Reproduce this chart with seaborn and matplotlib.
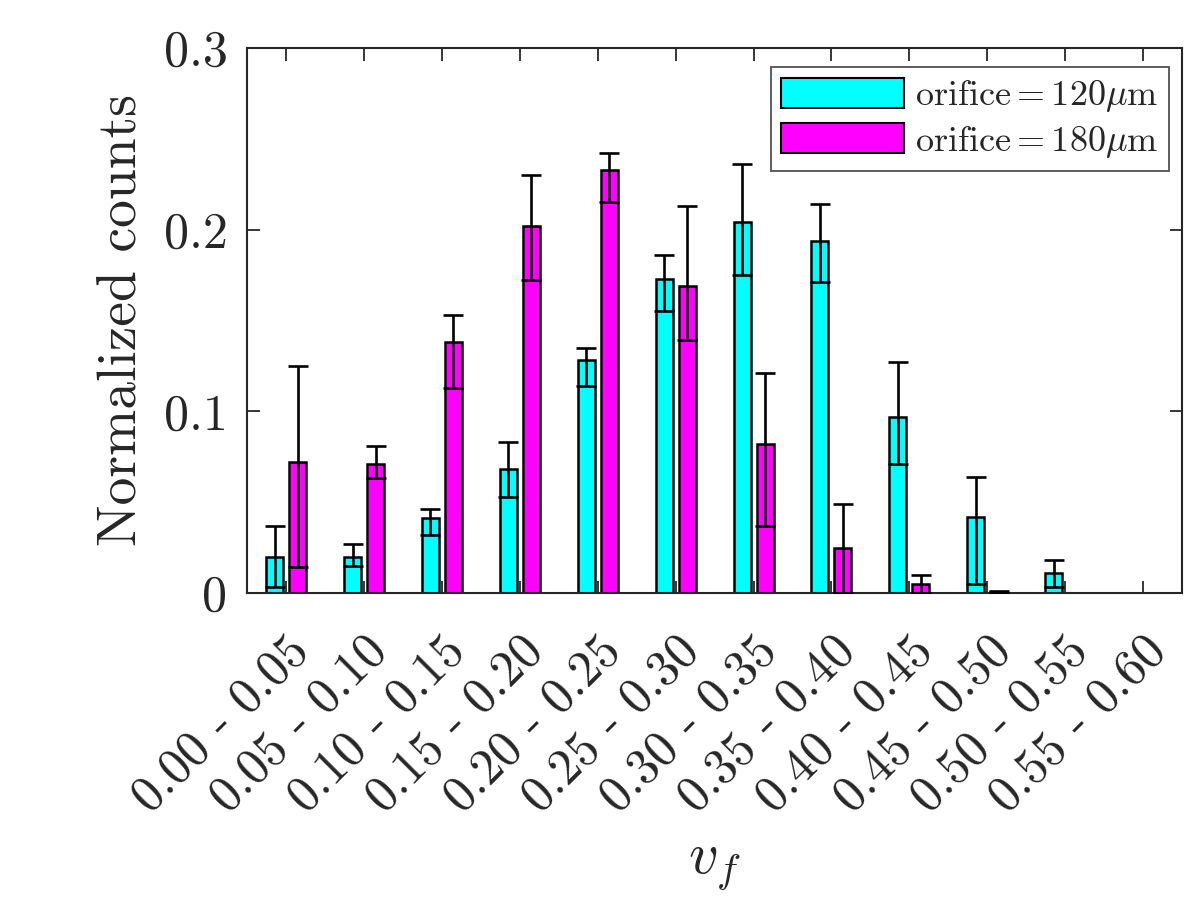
import numpy as np
import pandas as pd
import seaborn as sns
import matplotlib.pyplot as plt

# bins of v_f
bins = ['0.00 - 0.05', '0.05 - 0.10', '0.10 - 0.15', '0.15 - 0.20',
        '0.20 - 0.25', '0.25 - 0.30', '0.30 - 0.35', '0.35 - 0.40',
        '0.40 - 0.45', '0.45 - 0.50', '0.50 - 0.55', '0.55 - 0.60']
series = ['orifice120', 'orifice180']

# orifice = 120 um
val120 = [0.020, 0.020, 0.041, 0.068, 0.128, 0.173, 0.204, 0.194, 0.097, 0.042, 0.011, 0.0]
lo120 = [0.003, 0.015, 0.032, 0.053, 0.114, 0.155, 0.175, 0.171, 0.071, 0.005, 0.003, 0.0]
hi120 = [0.037, 0.027, 0.046, 0.083, 0.135, 0.186, 0.236, 0.214, 0.127, 0.064, 0.018, 0.0]

# orifice = 180 um
val180 = [0.072, 0.071, 0.138, 0.202, 0.233, 0.169, 0.082, 0.025, 0.005, 0.0004, 0.0, 0.0]
lo180 = [0.014, 0.063, 0.113, 0.172, 0.215, 0.139, 0.037, 0.0, 0.0, 0.0, 0.0, 0.0]
hi180 = [0.125, 0.081, 0.153, 0.230, 0.242, 0.213, 0.121, 0.049, 0.010, 0.0012, 0.0, 0.0]

legend_labels = [r'$\mathrm{orifice} = 120\mu\mathrm{m}$',
                 r'$\mathrm{orifice} = 180\mu\mathrm{m}$']
colors = ['#00ffff', '#ff00ff']

df = pd.DataFrame({
    'bin': bins * 2,
    'series': [series[0]] * len(bins) + [series[1]] * len(bins),
    'value': val120 + val180,
})

sns.set_style('white')
plt.rcParams['font.family'] = ['cmr10']
plt.rcParams['mathtext.fontset'] = 'cm'
plt.rcParams['axes.unicode_minus'] = False
plt.rcParams['axes.formatter.use_mathtext'] = True

fig = plt.figure(figsize=(12.04, 8.97), dpi=100)
ax = fig.add_axes([0.205, 0.339, 0.777, 0.6075])

sns.barplot(data=df, x='bin', y='value', hue='series', order=bins,
            hue_order=series, palette=colors, edgecolor='black',
            linewidth=1.8, width=0.59, gap=0.26, errorbar=None,
            saturation=1, ax=ax)

# empty bins: no outline
for p in ax.patches:
    if p.get_height() == 0:
        p.set_linewidth(0)

# asymmetric error bars at the bar centres
for cont, v, lo, hi in zip(ax.containers, [val120, val180], [lo120, lo180], [hi120, hi180]):
    xs = [p.get_x() + p.get_width() / 2 for p in cont.patches]
    v = np.array(v)
    err = [v - np.array(lo), np.array(hi) - v]
    keep = np.array(hi) > 0
    ax.errorbar(np.array(xs)[keep], v[keep], yerr=[e[keep] for e in err],
                fmt='none', ecolor='black', elinewidth=1.9, capsize=7.5,
                capthick=1.9, zorder=5)

ax.set_ylim(0, 0.3)
ax.set_xlim(-0.505, len(bins) - 0.495)
ax.set_yticks([0, 0.1, 0.2, 0.3])
ax.set_yticklabels(['0', '0.1', '0.2', '0.3'])
ax.set_xticks(range(len(bins)))
ax.set_xticklabels(bins, rotation=45, ha='right', rotation_mode='anchor')

ax.tick_params(direction='in', length=9, width=1.3, labelsize=36,
               top=True, right=True, bottom=True, left=True, pad=14,
               colors='#262626')
ax.tick_params(axis='x', pad=25)
for s in ax.spines.values():
    s.set_color('#262626')
    s.set_linewidth(1.5)

ax.set_ylabel('Normalized counts', fontsize=40, color='#262626', labelpad=12)
ax.set_xlabel(r'$v_f$', fontsize=42, color='#262626', labelpad=15)

handles = ax.get_legend_handles_labels()[0]
leg = ax.legend(handles, legend_labels, loc='upper right',
                bbox_to_anchor=(0.986, 0.965), fontsize=26,
                frameon=True, fancybox=False, edgecolor='#262626',
                handlelength=3.4, handleheight=0.9, handletextpad=0.3,
                borderpad=0.3, labelspacing=0.25, borderaxespad=0)
leg.get_frame().set_linewidth(1.3)
for h in leg.legend_handles:
    h.set_linewidth(1.5)

plt.savefig('out.png', dpi=100)
